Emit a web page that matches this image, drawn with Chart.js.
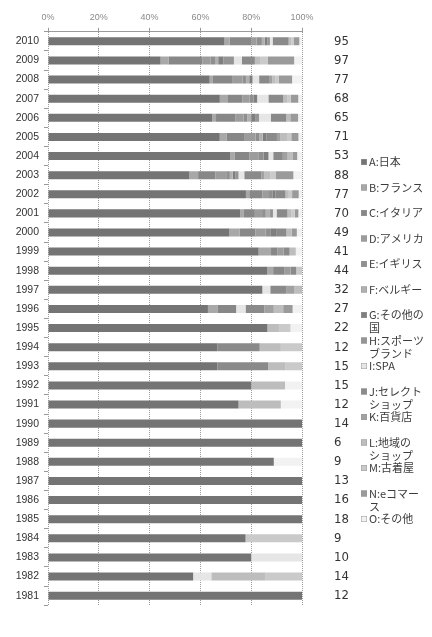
<!DOCTYPE html>
<html>
<head>
<meta charset="utf-8">
<script src="https://cdn.jsdelivr.net/npm/chart.js@4"></script>
<style>
  html, body { margin: 0; padding: 0; background: #fff; }
  #wrap { width: 432px; height: 637px; }
</style>
</head>
<body>
<div id="wrap"><canvas id="c" width="432" height="637"></canvas></div>
<script>
// Years, top to bottom
const years = ['2010','2009','2008','2007','2006','2005','2004','2003','2002','2001',
               '2000','1999','1998','1997','1996','1995','1994','1993','1992','1991',
               '1990','1989','1988','1987','1986','1985','1984','1983','1982','1981'];

// Number of items per year (shown at the right of each bar)
const totals = [95,97,77,68,65,71,53,88,77,70,49,41,44,32,27,22,12,15,15,12,14,6,9,13,16,18,9,10,14,12];

// Category names (\n marks where the legend text wraps)
const seriesNames = ['A:日本','B:フランス','C:イタリア','D:アメリカ','E:イギリス','F:ベルギー',
  'G:その他の\n国','H:スポーツ\nブランド','I:SPA','J:セレクト\nショップ','K:百貨店',
  'L:地域の\nショップ','M:古着屋','N:eコマー\nス','O:その他'];

// Counts per category, one value per year (same order as `years`)
const countA = [66,43,49,46,42,48,38,49,60,53,35,34,38,27,17,19,8,10,12,9,14,6,8,13,16,18,7,8,8,12];
const countB = [2,3,1,2,1,2,1,3,1,1,2,2,1,0,1,0,0,0,0,0,0,0,0,0,0,0,0,0,0,0];
const countC = [8,13,6,4,5,5,3,6,4,3,3,1,2,0,2,0,0,0,0,0,0,0,0,0,0,0,0,0,0,0];
const countD = [2,3,3,2,2,3,2,4,2,2,2,1,1,0,0,0,0,0,0,0,0,0,0,0,0,0,0,0,0,0];
const countE = [2,2,1,1,1,1,1,1,1,1,1,0,0,0,0,0,0,0,0,0,0,0,0,0,0,0,0,0,0,0];
const countF = [1,1,1,0,1,1,0,1,0,1,0,0,0,0,0,0,0,0,0,0,0,0,0,0,0,0,0,0,0,0];
const countG = [1,2,1,1,1,1,1,1,1,0,1,0,0,0,0,0,0,0,0,0,0,0,0,0,0,0,0,0,0,0];
const countH = [1,4,0,0,1,0,0,1,0,1,0,0,0,0,0,0,0,0,0,0,0,0,0,0,0,0,0,0,0,0];
const countI = [1,3,2,3,3,0,1,2,0,1,0,0,0,1,1,0,0,0,0,0,0,0,0,0,0,0,0,2,1,0];
const countJ = [6,5,3,4,4,3,2,6,3,3,2,1,1,2,2,0,2,3,0,0,0,0,0,0,0,0,0,0,0,0];
const countK = [0,0,1,0,0,1,1,1,0,0,0,0,0,1,1,0,0,0,0,0,0,0,0,0,0,0,0,0,0,0];
const countL = [1,2,1,1,1,2,1,2,1,1,1,1,0,1,1,1,1,1,2,2,0,0,0,0,0,0,0,0,3,0];
const countM = [1,3,1,1,0,1,0,2,1,1,0,0,1,0,0,1,1,1,0,0,0,0,0,0,0,0,2,0,2,0];
const countN = [2,10,4,2,2,2,1,6,2,1,1,0,0,0,1,0,0,0,0,0,0,0,0,0,0,0,0,0,0,0];
const countO = [1,3,3,1,1,1,1,3,1,1,1,1,0,0,1,1,0,0,1,1,0,0,1,0,0,0,0,0,0,0];

const seriesCounts = [countA,countB,countC,countD,countE,countF,countG,countH,
                      countI,countJ,countK,countL,countM,countN,countO];

// Gray fills for the categories
const seriesColors = ['#747474','#a8a8a8','#878787','#9c9c9c','#8f8f8f','#b0b0b0','#7f7f7f',
                      '#959595','#e6e6e6','#8a8a8a','#a1a1a1','#bdbdbd','#cacaca','#9a9a9a','#f2f2f2'];

const xTicks = [0,20,40,60,80,100];

const datasets = seriesCounts.map((arr, s) => ({
  label: seriesNames[s].replace('\n', ''),
  data: arr.map((v, i) => v / totals[i] * 100),
  backgroundColor: seriesColors[s],
  borderWidth: 0,
  categoryPercentage: 1,
  barPercentage: 0.42
}));

const narrowFont = "'Liberation Sans Narrow', 'DejaVu Sans Condensed', 'Roboto Condensed', 'Liberation Sans', sans-serif";

// Legend drawn at the right, with wrapped names
const sideLegend = {
  id: 'sideLegend',
  afterDraw(chart) {
    const ctx = chart.ctx;
    const top = 162, step = 25.5, sx = 361, tx = 369;
    ctx.save();
    ctx.font = '11px "Noto Sans CJK JP", sans-serif';
    ctx.textBaseline = 'middle';
    ctx.textAlign = 'left';
    chart.data.datasets.forEach((ds, i) => {
      const y = top + i * step;
      ctx.fillStyle = ds.backgroundColor;
      ctx.fillRect(sx, y - 3, 6, 6);
      ctx.strokeStyle = '#9a9a9a';
      ctx.lineWidth = 0.5;
      ctx.strokeRect(sx + 0.25, y - 2.75, 5.5, 5.5);
      ctx.fillStyle = '#3c3c3c';
      seriesNames[i].split('\n').forEach((t, k) => ctx.fillText(t, tx, y + k * 13));
    });
    ctx.restore();
  }
};

new Chart(document.getElementById('c'), {
  type: 'bar',
  data: { labels: years, datasets },
  plugins: [sideLegend],
  options: {
    indexAxis: 'y',
    responsive: false,
    animation: false,
    layout: { padding: { left: 0, right: 0, top: 0, bottom: 1 } },
    plugins: { legend: { display: false }, tooltip: { enabled: false } },
    scales: {
      x: {
        position: 'top',
        stacked: true,
        min: 0,
        max: 100,
        afterBuildTicks(s) { s.ticks = xTicks.map(v => ({ value: v })); },
        ticks: { callback: v => v + '%', color: '#8a8a8a', font: { size: 9, family: "'Liberation Sans', sans-serif" }, padding: 5, maxRotation: 0 },
        grid: { color: '#9a9a9a', lineWidth: 1, tickLength: 4, drawTicks: true },
        border: { display: true, color: '#9a9a9a', dash: [1, 1] },
        afterFit(s) { s.height = 26; }
      },
      y: {
        stacked: true,
        offset: true,
        ticks: { color: '#333', font: { size: 10.5, family: "'Liberation Sans', sans-serif" }, padding: 5 },
        grid: { display: true, drawOnChartArea: false, drawTicks: true, tickLength: 4, color: '#999', offset: true },
        border: { display: false },
        afterFit(s) { s.width = 48; }
      },
      y2: {
        type: 'category',
        position: 'right',
        offset: true,
        labels: totals.map(String),
        grid: { display: false },
        border: { display: false },
        ticks: { color: '#333', font: { size: 13, family: narrowFont }, padding: 24 },
        afterFit(s) { s.width = 130; }
      }
    }
  }
});
</script>
</body>
</html>
